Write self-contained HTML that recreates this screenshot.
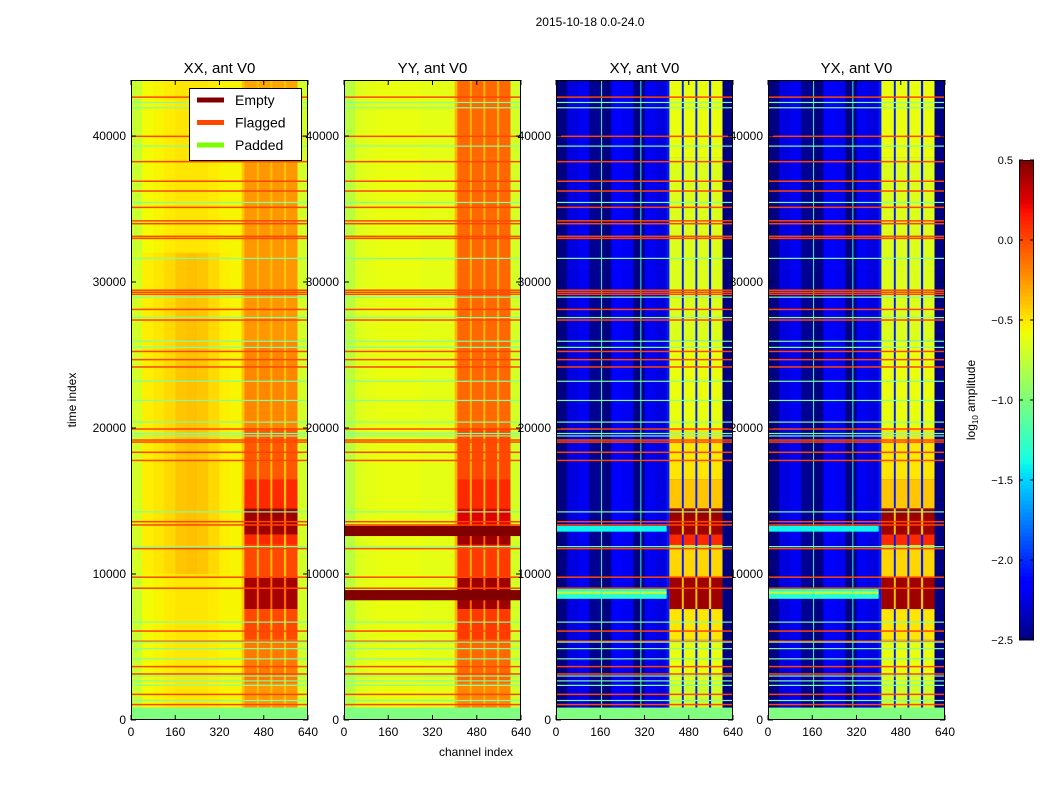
<!DOCTYPE html>
<html><head><meta charset="utf-8"><style>
body{margin:0;background:#fff;}
svg{display:block;font-family:"Liberation Sans",sans-serif;}
</style></head><body>
<svg id="chart" width="1050" height="800" viewBox="0 0 1050 800">
<text x="590" y="26" font-size="12" text-anchor="middle">2015-10-18 0.0-24.0</text>
<g id="labels"></g>
<g id="panels"></g>
<g id="overlay"></g>
</svg>
<script>
// ---- data ----
const panelNames = ["XX, ant V0","YY, ant V0","XY, ant V0","YX, ant V0"];
const bandEdges = [0,40,80,120,160,200,240,280,320,360,400,440,480,520,560,600,640];
const xxBg    = [-0.72,-0.57,-0.55,-0.52,-0.5,-0.5,-0.5,-0.52,-0.55,-0.55,-0.4,-0.4,-0.4,-0.4,-0.4,-0.68];
const xxBgMid = [-0.68,-0.53,-0.5,-0.46,-0.4,-0.38,-0.4,-0.46,-0.53,-0.55,-0.4,-0.4,-0.4,-0.4,-0.4,-0.68];
const yyBg    = [-0.78,-0.64,-0.62,-0.6,-0.6,-0.6,-0.6,-0.62,-0.62,-0.62,-0.35,-0.35,-0.35,-0.35,-0.35,-0.68];
const xyBg    = [-2.5,-2.25,-2.2,-2.45,-2.5,-2.15,-2.2,-2.5,-2.2,-2.25,-2.05,-2.05,-2.05,-2.05,-2.05,-2.5];
const yxBg    = [-2.5,-2.25,-2.2,-2.45,-2.5,-2.15,-2.2,-2.5,-2.2,-2.25,-2.05,-2.05,-2.05,-2.05,-2.05,-2.5];
const midZone = [10000,32000];
const stripeChannels = [[410,455],[462,504],[511,553],[561,602]];
const timeEdges = [0,2500,5500,7600,9800,12000,12700,14500,16500,20000,26000,38500,43836];
const xxStripe = [-0.25,-0.15,0.0,0.4,0.0,0.1,0.42,0.1,-0.05,-0.2,-0.25,-0.3];
const yyStripe = [-0.2,-0.1,0.05,0.42,0.05,0.42,0.25,0.1,0.0,-0.1,-0.1,-0.1];
const xyStripe = [-0.7,-0.6,-0.5,0.42,-0.45,0.1,0.42,-0.4,-0.5,-0.6,-0.65,-0.6];
const yxStripe = [-0.7,-0.6,-0.5,0.42,-0.45,0.1,0.42,-0.4,-0.5,-0.6,-0.65,-0.6];
const crossStreaks = [[8300,9000,-1.3],[8650,8800,-0.7],[12900,13300,-1.4]];
const crossVlines = [163,305];
const flaggedRows = [42662,39977,38244,36902,36231,35112,34190,33994,33127,32988,29437,29297,29157,28122,27395,25243,24683,24180,19930,19175,19035,18336,17777,13583,13360,11738,9781,9026,6090,5391,3657,3153,1755,1056];
const paddedRows = [42298,41935,39307,35448,31618,28961,27563,25941,25522,23201,21887,20405,19623,19455,14254,11877,6704,5334,4887,4188,3014,2679,2371,1336];
const paddedBlocks = [[0,850]];
const emptyRowsYY = [[12600,13300],[8200,8900]];
const xTicks = [0,160,320,480,640];
const yTicks = [0,10000,20000,30000,40000];
const cbTicks = [0.5,0.0,-0.5,-1.0,-1.5,-2.0,-2.5];
const cbLabels = ["0.5","0.0","\u22120.5","\u22121.0","\u22121.5","\u22122.0","\u22122.5"];

// ---- scales ----
const panelX = [131,344,556,768], PW = 177, PT = 80, PB = 720, TMAX = 43836;
const VMIN = -2.5, VMAX = 0.5;
function xScale(p, ch){ return panelX[p] + ch/640*PW; }
function yScale(t){ return PB - t/TMAX*(PB-PT); }
function cl(v){ return Math.max(0,Math.min(1,v)); }
function seg(pts, x){
  for (let i=0;i<pts.length-1;i++){
    if (x<=pts[i+1][0]){ const f=(x-pts[i][0])/(pts[i+1][0]-pts[i][0]); return pts[i][1]+f*(pts[i+1][1]-pts[i][1]); }
  }
  return pts[pts.length-1][1];
}
const JR=[[0,0],[0.35,0],[0.66,1],[0.89,1],[1,0.5]];
const JG=[[0,0],[0.125,0],[0.375,1],[0.64,1],[0.91,0],[1,0]];
const JB=[[0,0.5],[0.11,1],[0.34,1],[0.65,0],[1,0]];
function jet(v){
  const x = cl((v-VMIN)/(VMAX-VMIN));
  return `rgb(${Math.round(seg(JR,x)*255)},${Math.round(seg(JG,x)*255)},${Math.round(seg(JB,x)*255)})`;
}
const NS = "http://www.w3.org/2000/svg";
function mk(parent, tag, attrs){ const e = document.createElementNS(NS, tag); for (const k in attrs) e.setAttribute(k, attrs[k]); parent.appendChild(e); return e; }
const labels = document.getElementById('labels');
const panels = document.getElementById('panels');
const overlay = document.getElementById('overlay');

const bgs = [xxBg, yyBg, xyBg, yxBg];
const stripes = [xxStripe, yyStripe, xyStripe, yxStripe];

for (let p=0;p<4;p++){
  yTicks.forEach(t=>{
    const tx = mk(p===3?labels:overlay,'text',{x:panelX[p]-5,y:yScale(t)+4,'font-size':12,'text-anchor':'end'});
    tx.textContent = t;
    
    
  });
  xTicks.forEach(c=>{
    const tx = mk(overlay,'text',{x:xScale(p,c),y:736,'font-size':12,'text-anchor':'middle'});
    tx.textContent = c;
    
    
  });
  const g = mk(panels,'g',{});
  
  
  const clip = mk(g,'clipPath',{id:'c'+p});
  mk(clip,'rect',{x:panelX[p],y:PT,width:PW,height:PB-PT});
  const gi = mk(g,'g',{'clip-path':`url(#c${p})`});
  for (let b=0;b<16;b++){
    const x0 = xScale(p,bandEdges[b]), x1 = xScale(p,bandEdges[b+1]);
    const r = mk(gi,'rect',{x:x0,y:PT,width:x1-x0+0.5,height:PB-PT,fill:jet(bgs[p][b])});
    
    
    if (p===0){
      const y0 = yScale(midZone[1]), y1 = yScale(midZone[0]);
      const m = mk(gi,'rect',{x:x0,y:y0,width:x1-x0+0.5,height:y1-y0,fill:jet(xxBgMid[b])});
      
      
    }
  }
  if (p>=2){
    crossStreaks.forEach(s=>{
      const y0 = yScale(s[1]), y1 = yScale(s[0]);
      const r = mk(gi,'rect',{x:xScale(p,0),y:y0,width:xScale(p,400)-xScale(p,0),height:y1-y0,fill:jet(s[2])});
      
      
    });
    crossVlines.forEach(c=>{
      const l = mk(gi,'rect',{x:xScale(p,c),y:PT,width:1,height:PB-PT,fill:jet(-1.3)});
      
      
    });
  }
  for (let s=0;s<timeEdges.length-1;s++){
    const y0 = yScale(timeEdges[s+1]), y1 = yScale(timeEdges[s]);
    const v = stripes[p][s];
    if (v>0.3){
      const r = mk(gi,'rect',{x:xScale(p,stripeChannels[0][0]),y:y0,width:xScale(p,stripeChannels[3][1])-xScale(p,stripeChannels[0][0]),height:y1-y0,fill:jet(p>=2?-0.4:-0.1)});
      
      
    }
    stripeChannels.forEach(sc=>{
      const r = mk(gi,'rect',{x:xScale(p,sc[0]),y:y0,width:xScale(p,sc[1])-xScale(p,sc[0]),height:y1-y0,fill:jet(v)});
      
      
    });
  }
  if (p===1){
    emptyRowsYY.forEach(e=>{
      const y0 = yScale(e[1]), y1 = yScale(e[0]);
      const r = mk(gi,'rect',{x:panelX[p],y:y0,width:PW,height:y1-y0,fill:'#800000'});
      
      
    });
  }
  paddedBlocks.forEach(e=>{
    const y0 = yScale(e[1]), y1 = yScale(e[0]);
    const r = mk(gi,'rect',{x:panelX[p],y:y0,width:PW,height:y1-y0,fill:'#80ff80'});
    
    
  });
  flaggedRows.forEach(t=>{
    const r = mk(gi,'rect',{x:panelX[p],y:yScale(t)-0.75,width:PW,height:1.5,fill:'#ff4500'});
    
    
  });
  paddedRows.forEach(t=>{
    const r = mk(gi,'rect',{x:panelX[p],y:yScale(t)-0.6,width:PW,height:1.2,fill:'#80ffa0'});
    
    
  });
  const fr = mk(g,'rect',{x:panelX[p]+0.5,y:PT+0.5,width:PW-1,height:PB-PT-1,fill:'none',stroke:'#000','stroke-width':1});
  
  
  xTicks.forEach(c=>{
    mk(g,'line',{x1:xScale(p,c),x2:xScale(p,c),y1:PB,y2:PB-5,stroke:'#000'});
    mk(g,'line',{x1:xScale(p,c),x2:xScale(p,c),y1:PT,y2:PT+5,stroke:'#000'});
  });
  yTicks.forEach(t=>{
    mk(g,'line',{x1:panelX[p],x2:panelX[p]+5,y1:yScale(t),y2:yScale(t),stroke:'#000'});
    mk(g,'line',{x1:panelX[p]+PW,x2:panelX[p]+PW-5,y1:yScale(t),y2:yScale(t),stroke:'#000'});
  });
  const tt = mk(overlay,'text',{x:panelX[p]+PW/2,y:73,'font-size':15,'text-anchor':'middle'});
  tt.textContent = panelNames[p];
  
  
}

let t1 = mk(overlay,'text',{x:0,y:0,'font-size':12,'text-anchor':'middle',transform:'translate(76,400) rotate(-90)'});
t1.textContent='time index';


let t2 = mk(overlay,'text',{x:476,y:756,'font-size':12,'text-anchor':'middle'});
t2.textContent='channel index';



const lg = mk(overlay,'g',{});


mk(lg,'rect',{x:189.5,y:88.5,width:112,height:72,fill:'#fff',stroke:'#000'});
const legNames = ["Empty","Flagged","Padded"], legColors = ["#800000","#ff4500","#7cfc00"];
legNames.forEach((n,i)=>{
  const y = 100+i*22.5;
  const ln = mk(lg,'line',{x1:197,x2:224,y1:y,y2:y,stroke:legColors[i],'stroke-width':5});
  
  
  const tx = mk(lg,'text',{x:235,y:y+5,'font-size':14});
  tx.textContent = n;
  
  
});

const cb = mk(overlay,'g',{});


const CBX=1019, CBW=15, CBT=160, CBB=640;
function cbY(v){ return CBB - (v-VMIN)/(VMAX-VMIN)*(CBB-CBT); }
for (let i=0;i<120;i++){
  const v0 = VMIN + i*(VMAX-VMIN)/120, v1 = VMIN+(i+1)*(VMAX-VMIN)/120;
  mk(cb,'rect',{x:CBX,y:cbY(v1),width:CBW,height:cbY(v0)-cbY(v1)+0.5,fill:jet((v0+v1)/2)});
}
mk(cb,'rect',{x:CBX+0.5,y:CBT+0.5,width:CBW-1,height:CBB-CBT-1,fill:'none',stroke:'#000'});
cbTicks.forEach((v,i)=>{
  mk(cb,'line',{x1:CBX,x2:CBX+4,y1:cbY(v),y2:cbY(v),stroke:'#000'});
  mk(cb,'line',{x1:CBX+CBW,x2:CBX+CBW-4,y1:cbY(v),y2:cbY(v),stroke:'#000'});
  const tx = mk(cb,'text',{x:1013,y:cbY(v)+4,'font-size':11,'text-anchor':'end'});
  tx.textContent = cbLabels[i];
  
  
});
const cbl = mk(cb,'text',{x:0,y:0,'font-size':12,'text-anchor':'middle',transform:'translate(975,400) rotate(-90)'});
cbl.innerHTML = 'log<tspan font-size="8" dy="3">10</tspan><tspan dy="-3"> amplitude</tspan>';


</script>
</body></html>
